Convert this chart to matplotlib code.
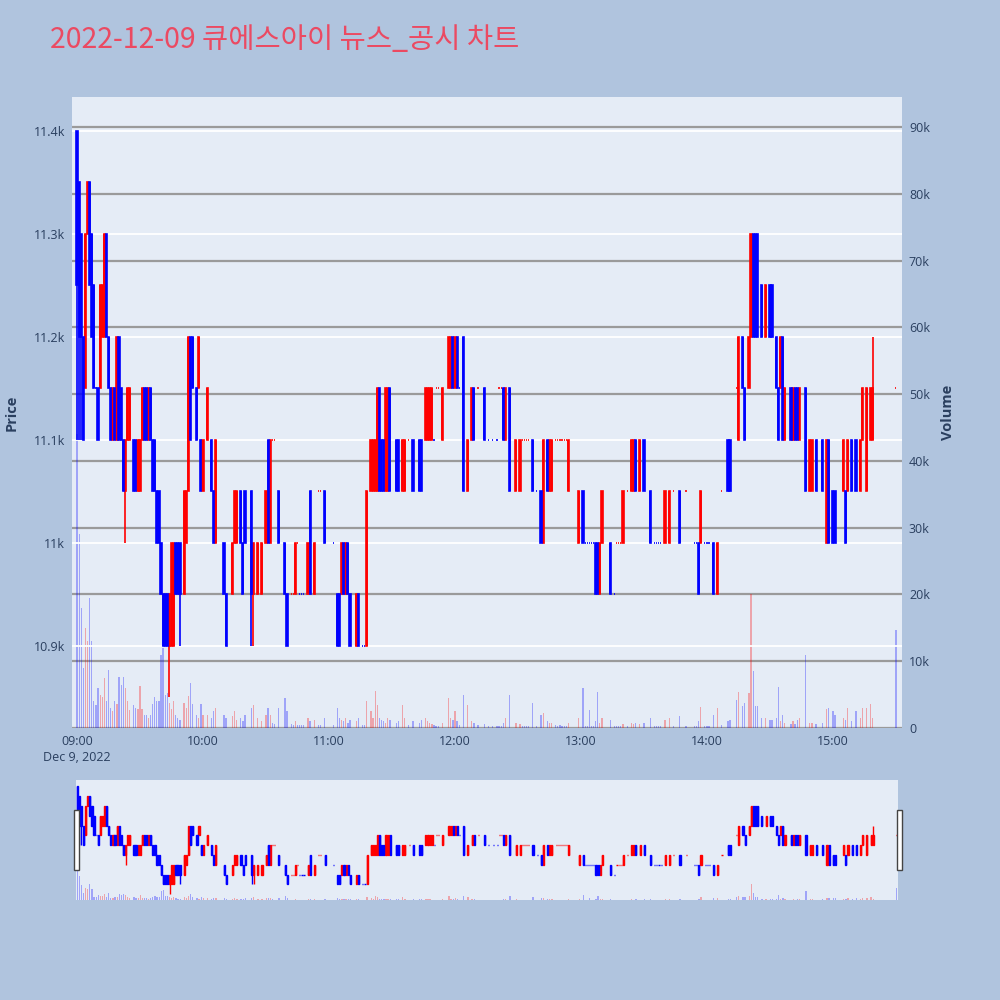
import matplotlib.pyplot as plt
from matplotlib.patches import Rectangle
from matplotlib.ticker import FuncFormatter

plt.rcParams['font.family'] = ['Open Sans', 'Noto Sans CJK KR', 'DejaVu Sans']

# ---------- data: minute bars of 2022-12-09 (minutes after 09:00) ----------
minutes = [0, 1, 2, 3, 4, 5, 6, 7, 8, 9, 10, 11, 12, 13, 14, 15, 16, 17, 18, 19,
           20, 21, 22, 23, 24, 25, 27, 28, 29, 30, 31, 32, 33, 34, 35, 36, 37, 38, 39,
           40, 41, 42, 43, 44, 45, 46, 47, 48, 49, 51, 52, 53, 54, 55, 57, 58, 59,
           60, 62, 64, 65, 66, 70, 71, 74, 75, 76, 78, 79, 80, 83, 84, 86, 88,
           90, 91, 92, 93, 94, 96, 99, 100, 102, 103, 104, 105, 106, 107, 108,
           110, 111, 113, 115, 116, 118, 122, 124, 125, 126, 127, 128, 129,
           130, 133, 134, 136, 137, 138, 140, 141, 142, 143, 144, 145, 146, 147, 148, 149,
           152, 153, 155, 156, 158, 160, 163, 164, 166, 167, 168, 169,
           170, 171, 172, 174, 177, 178, 179, 180, 181, 182, 184, 186, 188, 189,
           191, 194, 196, 198, 200, 201, 202, 203, 204, 206, 209,
           211, 212, 213, 214, 215, 217, 219, 221, 222, 224, 225, 226, 228, 229,
           230, 231, 232, 233, 234, 239, 241, 242, 243, 244, 245, 246, 247, 248, 249,
           250, 254, 256, 257, 258, 259, 260, 262, 264, 265, 266, 268,
           270, 273, 275, 276, 277, 278, 280, 282, 284, 287,
           290, 294, 295, 296, 297, 299, 300, 301, 303, 305, 307,
           310, 311, 314, 315, 317, 318, 320, 321, 322, 323, 324, 326, 328,
           330, 331, 333, 334, 335, 336, 337, 340, 341, 342, 343, 344, 347, 349,
           350, 352, 355, 357, 358, 360, 361, 365, 366, 367, 369,
           371, 373, 374, 376, 378, 379, 390]

opens = [11400, 11350, 11300, 11200, 11150, 11300, 11350, 11300, 11250, 11150, 11150, 11150, 11200, 11200, 11300, 11200, 11150, 11100, 11150, 11100,
         11200, 11150, 11100, 11050, 11100, 11100, 11100, 11100, 11050, 11050, 11100, 11150, 11150, 11100, 11150, 11100, 11100, 11050, 11050,
         11000, 10950, 10950, 10950, 10900, 10900, 10900, 11000, 11000, 11000, 10950, 11000, 11050, 11200, 11200, 11150, 11150, 11100,
         11050, 11100, 11100, 11050, 11000, 11000, 10950, 10950, 11000, 11000, 11050, 11000, 11050, 11050, 10950, 10950, 10950,
         11000, 11100, 11000, 11100, 11100, 11050, 11000, 10950, 10950, 10950, 10950, 11000, 10950, 10950, 10950,
         10950, 11050, 10950, 11050, 11050, 11050, 11000, 10950, 10950, 10950, 11000, 10950, 11000,
         10950, 10900, 10950, 10900, 10900, 10900, 11050, 11050, 11050, 11050, 11150, 11100, 11100, 11050, 11050, 11150,
         11100, 11100, 11050, 11050, 11100, 11100, 11100, 11100, 11100, 11100, 11100, 11100,
         11100, 11150, 11150, 11100, 11150, 11150, 11200, 11150, 11200, 11150, 11200, 11050, 11100, 11150,
         11150, 11150, 11100, 11100, 11100, 11150, 11150, 11150, 11100, 11150, 11050,
         11050, 11100, 11100, 11100, 11100, 11100, 11050, 11050, 11000, 11100, 11050, 11050, 11100, 11100,
         11100, 11100, 11100, 11100, 11050, 11000, 11050, 11000, 11000, 11000, 11000, 11000, 11000, 11000, 10950,
         11000, 11000, 10950, 11000, 11000, 11000, 11000, 11050, 11050, 11050, 11100, 11050,
         11100, 11050, 11000, 11000, 11000, 11000, 11000, 11000, 11050, 11050,
         11050, 11000, 11000, 11000, 11000, 11000, 11000, 11000, 11000, 10950, 11050,
         11100, 11100, 11150, 11100, 11200, 11150, 11150, 11200, 11300, 11300, 11300, 11250, 11200,
         11250, 11250, 11200, 11150, 11150, 11200, 11100, 11150, 11100, 11150, 11150, 11100, 11150, 11050,
         11050, 11100, 11100, 11000, 11100, 11050, 11050, 11050, 11050, 11050, 11100,
         11100, 11050, 11100, 11050, 11100, 11100, 11150]

closes = [11250, 11200, 11200, 11100, 11300, 11350, 11250, 11200, 11150, 11150, 11100, 11250, 11250, 11300, 11200, 11150, 11100, 11150, 11100, 11200,
          11100, 11100, 11050, 11100, 11150, 11150, 11050, 11050, 11100, 11100, 11150, 11100, 11100, 11150, 11100, 11050, 11050, 11000, 11000,
          10950, 10900, 10900, 10900, 10950, 11000, 11000, 10950, 10950, 10950, 11050, 11050, 11200, 11100, 11150, 11100, 11200, 11050,
          11100, 11150, 11050, 11000, 11100, 10950, 10900, 11000, 11050, 11050, 11000, 10950, 11000, 10950, 11000, 11000, 11000,
          11050, 11000, 11100, 11100, 11100, 11000, 10950, 10900, 10950, 10950, 11000, 11000, 10950, 10950, 10950,
          11000, 10950, 11000, 11050, 11050, 11000, 11000, 10900, 10900, 11000, 10950, 11000, 10950,
          10900, 10950, 10900, 10900, 10900, 11050, 11100, 11100, 11100, 11150, 11050, 11050, 11050, 11150, 11150, 11050,
          11050, 11050, 11100, 11100, 11100, 11050, 11050, 11050, 11150, 11150, 11150, 11150,
          11100, 11150, 11150, 11150, 11200, 11200, 11150, 11200, 11150, 11150, 11050, 11100, 11150, 11100,
          11150, 11100, 11100, 11100, 11100, 11150, 11150, 11100, 11150, 11050, 11100,
          11100, 11100, 11100, 11100, 11100, 11050, 11050, 11000, 11100, 11050, 11100, 11100, 11100, 11100,
          11100, 11100, 11100, 11100, 11100, 11050, 11000, 11000, 11000, 11000, 11000, 11000, 10950, 10950, 11000,
          11050, 10950, 10950, 11000, 11000, 11000, 11050, 11050, 11100, 11100, 11050, 11100,
          11050, 11000, 11000, 11000, 11000, 11000, 11050, 11050, 11050, 11000,
          11050, 11000, 11000, 10950, 11050, 11000, 11000, 11000, 10950, 11000, 11050,
          11050, 11050, 11150, 11200, 11150, 11100, 11200, 11300, 11200, 11200, 11200, 11200, 11250,
          11200, 11200, 11150, 11100, 11200, 11100, 11150, 11100, 11150, 11100, 11100, 11150, 11050, 11100,
          11100, 11050, 11050, 11100, 11000, 11000, 11000, 11100, 11000, 11100, 11050,
          11050, 11100, 11150, 11150, 11150, 11150, 11150]

volumes = [44000, 29000, 18000, 9000, 15000, 13000, 19500, 13000, 4000, 3400, 6000, 5000, 4700, 7500, 4000, 8700, 3000, 2500, 4000, 3600,
           7600, 6500, 7600, 6000, 4000, 2700, 3500, 3000, 2800, 6300, 2800, 2000, 2000, 1500, 2000, 3600, 4700, 4000, 4000,
           11000, 12000, 5000, 5300, 3800, 2800, 4000, 2000, 1500, 1200, 3800, 3000, 4800, 6800, 3600, 2000, 1500, 3600,
           2000, 2000, 1500, 2500, 3000, 2000, 1500, 1800, 2500, 1200, 1500, 1000, 2000, 3000, 3500, 1500, 1000,
           2000, 3000, 2000, 800, 600, 3000, 4500, 2500, 600, 500, 1000, 500, 500, 500, 500,
           1500, 1000, 1200, 400, 400, 1500, 400, 3000, 1500, 1200, 1000, 1500, 800,
           1200, 1000, 1500, 500, 400, 4000, 2500, 1500, 5500, 3500, 1500, 1200, 1000, 800, 1500, 1200,
           800, 1000, 3500, 1500, 400, 1000, 800, 1200, 1500, 1000, 800, 600,
           400, 300, 300, 800, 4500, 1500, 1200, 2500, 1000, 400, 5000, 3500, 1000, 800,
           400, 600, 300, 300, 300, 300, 300, 800, 1500, 5000, 800,
           600, 300, 300, 300, 300, 3700, 300, 2000, 2300, 1000, 800, 800, 400, 300,
           400, 300, 300, 300, 800, 1500, 6000, 300, 300, 2700, 300, 300, 1000, 5400, 800,
           1500, 1200, 300, 300, 300, 300, 600, 300, 800, 600, 800, 600,
           800, 1500, 300, 300, 300, 300, 1200, 1500, 300, 1800,
           300, 300, 300, 1000, 3100, 300, 300, 300, 2000, 3000, 500,
           1000, 1200, 4200, 5400, 3300, 3700, 5200, 20000, 8500, 3300, 3300, 1500, 1500,
           1200, 1200, 1500, 6100, 1000, 2000, 800, 600, 1000, 600, 1200, 1500, 11000, 800,
           700, 600, 800, 2800, 3000, 2500, 2000, 1500, 1200, 3000, 1000,
           2500, 1500, 3000, 3000, 3600, 1500, 14700]

# visible shadows that reach past the body
wick_minutes = [0, 1, 2, 23, 44, 49, 83, 84, 379]
wick_highs = [11400, 11350, 11300, 11100, 10950, 11000, 11050, 11000, 11200]
wick_lows = [11100, 11100, 11100, 11000, 10850, 10900, 10900, 10900, 11100]

tick_minutes = [0, 60, 120, 180, 240, 300, 360]
tick_labels = ['09:00\nDec 9, 2022', '10:00', '11:00', '12:00', '13:00', '14:00', '15:00']

UP = '#FF0000'
DOWN = '#0000FF'
PLOT_BG = '#E5ECF6'
PAGE_BG = '#B0C4DE'
TXT = '#2A3F5F'

# direction like plotly: flat bars compare with previous close
up_flags = []
prev_close = None
up = True
for o, c in zip(opens, closes):
    if c == o:
        if prev_close is not None and c != prev_close:
            up = c > prev_close
    else:
        up = c > o
    up_flags.append(up)
    prev_close = c

highs = [max(o, c) for o, c in zip(opens, closes)]
lows = [min(o, c) for o, c in zip(opens, closes)]
for m, h, l in zip(wick_minutes, wick_highs, wick_lows):
    i = minutes.index(m)
    highs[i] = max(highs[i], h)
    lows[i] = min(lows[i], l)


def draw_candles(ax, lw):
    for flag, col in ((True, UP), (False, DOWN)):
        idx = [i for i, u in enumerate(up_flags) if u == flag]
        xs = [minutes[i] for i in idx]
        ax.vlines(xs, [lows[i] for i in idx], [highs[i] for i in idx],
                  color=col, linewidth=lw, zorder=3)
        ax.bar(xs, [closes[i] - opens[i] for i in idx], bottom=[opens[i] for i in idx],
               width=0.55, color=col, edgecolor=col, linewidth=lw, zorder=4)


def draw_volume(ax):
    vcols = [UP if c > o else DOWN for o, c in zip(opens, closes)]
    ax.bar(minutes, volumes, width=0.6, color=vcols, alpha=0.3, linewidth=0, zorder=2)


fig = plt.figure(figsize=(10, 10), dpi=100)
fig.patch.set_facecolor(PAGE_BG)

# ----- main chart: volume underneath, price on top -----
axv = fig.add_axes([0.072, 0.272, 0.830, 0.631])
axv.set_facecolor(PLOT_BG)
axp = axv.twinx()

draw_volume(axv)
axv.set_ylim(0, 94500)
axv.set_yticks(range(0, 90001, 10000))
axv.yaxis.tick_right()
axv.yaxis.set_label_position('right')
axv.yaxis.set_major_formatter(FuncFormatter(lambda v, p: '0' if v == 0 else f'{int(v / 1000)}k'))
axv.grid(axis='y', color='#9A9A9A', linewidth=1.6)
axv.set_axisbelow(True)
axv.set_ylabel('Volume', color=TXT, fontsize=10.5, fontweight='bold', labelpad=8)

draw_candles(axp, 1.2)
axp.set_ylim(10820, 11433)
axp.set_yticks([10900, 11000, 11100, 11200, 11300, 11400])
axp.yaxis.tick_left()
axp.yaxis.set_label_position('left')
axp.yaxis.set_major_formatter(FuncFormatter(lambda v, p: f'{v / 1000:g}k'))
axp.grid(axis='y', color='white', linewidth=1.3)
axp.set_axisbelow(True)

axv.set_xlim(-2.4, 392.9)
axv.set_xticks(tick_minutes)
axv.set_xticklabels(tick_labels, linespacing=1.3)

for a in (axv, axp):
    for s in a.spines.values():
        s.set_visible(False)
    a.tick_params(length=0, labelsize=9, labelcolor=TXT, pad=5)

fig.text(0.012, 0.587, 'Price', rotation=90, ha='center', va='center',
         color=TXT, fontsize=10.5, fontweight='bold')

# ----- range slider -----
axs = fig.add_axes([0.076, 0.100, 0.822, 0.120])
axs.set_facecolor(PLOT_BG)
draw_volume(axs)
axs.set_ylim(0, 147000)
axs2 = axs.twinx()
draw_candles(axs2, 1.0)
axs2.set_ylim(10820, 11433)
axs.set_xlim(-0.6, 390.8)
for a in (axs, axs2):
    a.set_xticks([])
    a.set_yticks([])
    for s in a.spines.values():
        s.set_visible(False)

for hx in (0.0735, 0.8965):
    fig.patches.append(Rectangle((hx, 0.130), 0.005, 0.060, transform=fig.transFigure,
                                 facecolor='white', edgecolor='#444444', linewidth=1))

fig.text(0.05, 0.960, '2022-12-09 큐에스아이 뉴스_공시 차트', ha='left', va='center',
         color='#EB4A62', fontsize=20.5, family=['Noto Sans CJK KR', 'DejaVu Sans'])

fig.savefig('out.png', dpi=100, facecolor=fig.get_facecolor())
